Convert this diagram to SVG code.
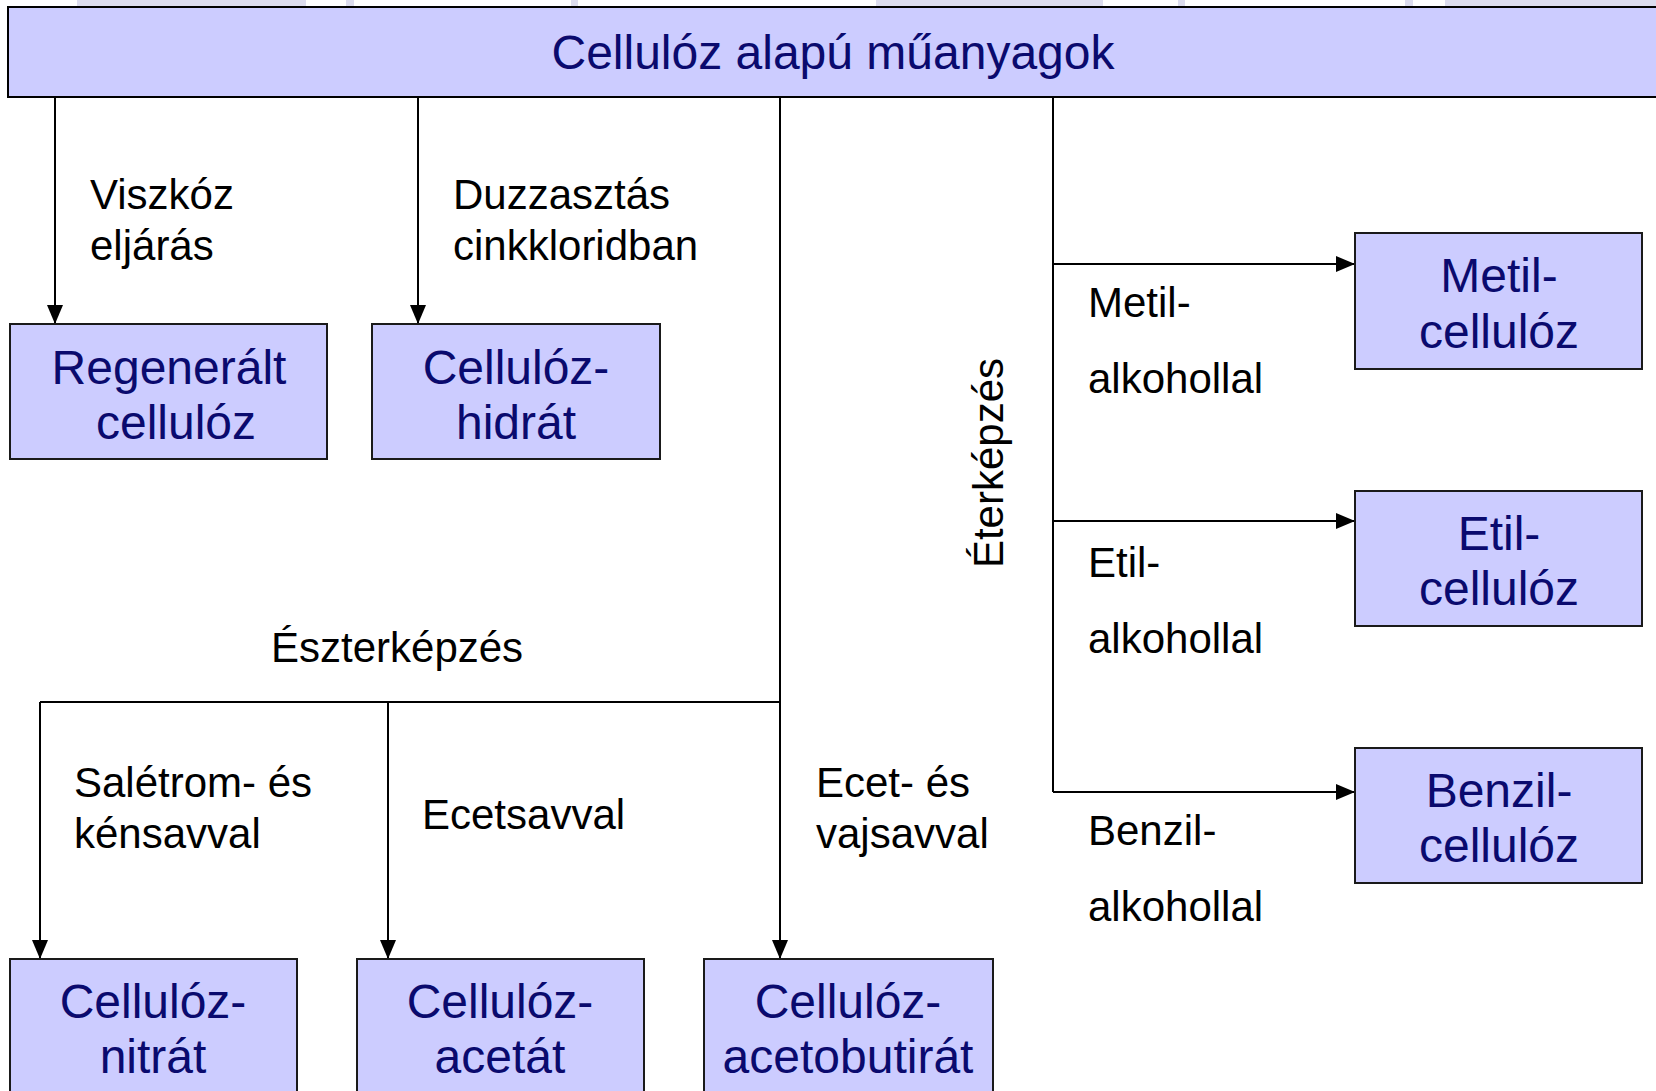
<svg xmlns="http://www.w3.org/2000/svg" width="1656" height="1091" viewBox="0 0 1656 1091">
<defs>
<style>
.box{fill:#CCCCFF;stroke:#1a1a1a;stroke-width:2}
.nt{font-family:"Liberation Sans",Arial,sans-serif;font-size:48px;fill:#0A0A6E;text-anchor:middle}
.lb{font-family:"Liberation Sans",Arial,sans-serif;font-size:42px;fill:#000}
.ln{fill:none;stroke:#000;stroke-width:2}
.wm{fill:#DCDCEE}
</style>
<marker id="ah" markerUnits="userSpaceOnUse" markerWidth="20" markerHeight="18" refX="19" refY="8" orient="auto">
<path d="M0,0 L19,8 L0,16 Z" fill="#000"/>
</marker>
</defs>
<rect width="1656" height="1091" fill="#fff"/>
<g id="watermark">
<rect class="wm" x="77" y="0" width="229" height="10"/>
<rect class="wm" x="346" y="0" width="8" height="10"/>
<rect class="wm" x="571" y="0" width="7" height="10"/>
<rect class="wm" x="876" y="0" width="227" height="10"/>
<rect class="wm" x="1178" y="0" width="7" height="10"/>
<rect class="wm" x="1405" y="0" width="8" height="10"/>
<rect class="wm" x="1445" y="0" width="211" height="10"/>
</g>
<g id="connectors">
<path class="ln" d="M55 97 V324" marker-end="url(#ah)"/>
<path class="ln" d="M418 97 V324" marker-end="url(#ah)"/>
<path class="ln" d="M780 97 V959" marker-end="url(#ah)"/>
<path class="ln" d="M40 702 H780"/>
<path class="ln" d="M40 702 V959" marker-end="url(#ah)"/>
<path class="ln" d="M388 702 V959" marker-end="url(#ah)"/>
<path class="ln" d="M1053 97 V792"/>
<path class="ln" d="M1053 264 H1355" marker-end="url(#ah)"/>
<path class="ln" d="M1053 521 H1355" marker-end="url(#ah)"/>
<path class="ln" d="M1053 792 H1355" marker-end="url(#ah)"/>
</g>
<g id="root">
<rect x="8" y="7" width="1660" height="90" fill="#CCCCFF" stroke="#000" stroke-width="2"/>
<text class="nt" x="833" y="69">Cellulóz alapú műanyagok</text>
</g>
<g id="regeneralt">
<rect class="box" x="10" y="324" width="317" height="135"/>
<text class="nt" x="169" y="384">Regenerált</text>
<text class="nt" x="176" y="439">cellulóz</text>
</g>
<g id="hidrat">
<rect class="box" x="372" y="324" width="288" height="135"/>
<text class="nt" x="516" y="384">Cellulóz-</text>
<text class="nt" x="516" y="439">hidrát</text>
</g>
<g id="metil">
<rect class="box" x="1355" y="233" width="287" height="136"/>
<text class="nt" x="1499" y="292">Metil-</text>
<text class="nt" x="1499" y="348">cellulóz</text>
</g>
<g id="etil">
<rect class="box" x="1355" y="491" width="287" height="135"/>
<text class="nt" x="1499" y="550">Etil-</text>
<text class="nt" x="1499" y="605">cellulóz</text>
</g>
<g id="benzil">
<rect class="box" x="1355" y="748" width="287" height="135"/>
<text class="nt" x="1499" y="807">Benzil-</text>
<text class="nt" x="1499" y="862">cellulóz</text>
</g>
<g id="nitrat">
<rect class="box" x="10" y="959" width="287" height="140"/>
<text class="nt" x="153" y="1018">Cellulóz-</text>
<text class="nt" x="153" y="1073">nitrát</text>
</g>
<g id="acetat">
<rect class="box" x="357" y="959" width="287" height="140"/>
<text class="nt" x="500" y="1018">Cellulóz-</text>
<text class="nt" x="500" y="1073">acetát</text>
</g>
<g id="acetobutirat">
<rect class="box" x="704" y="959" width="289" height="140"/>
<text class="nt" x="848" y="1018">Cellulóz-</text>
<text class="nt" x="848" y="1073">acetobutirát</text>
</g>
<g id="labels">
<text class="lb" x="90" y="209">Viszkóz</text>
<text class="lb" x="90" y="260">eljárás</text>
<text class="lb" x="453" y="209">Duzzasztás</text>
<text class="lb" x="453" y="260">cinkkloridban</text>
<text class="lb" x="271" y="662">Észterképzés</text>
<text class="lb" x="74" y="797">Salétrom- és</text>
<text class="lb" x="74" y="848">kénsavval</text>
<text class="lb" x="422" y="829">Ecetsavval</text>
<text class="lb" x="816" y="797">Ecet- és</text>
<text class="lb" x="816" y="848">vajsavval</text>
<text class="lb" x="1003" y="463" text-anchor="middle" transform="rotate(-90 1003 463)">Éterképzés</text>
<text class="lb" x="1088" y="317">Metil-</text>
<text class="lb" x="1088" y="393">alkohollal</text>
<text class="lb" x="1088" y="577">Etil-</text>
<text class="lb" x="1088" y="653">alkohollal</text>
<text class="lb" x="1088" y="845">Benzil-</text>
<text class="lb" x="1088" y="921">alkohollal</text>
</g>
</svg>
